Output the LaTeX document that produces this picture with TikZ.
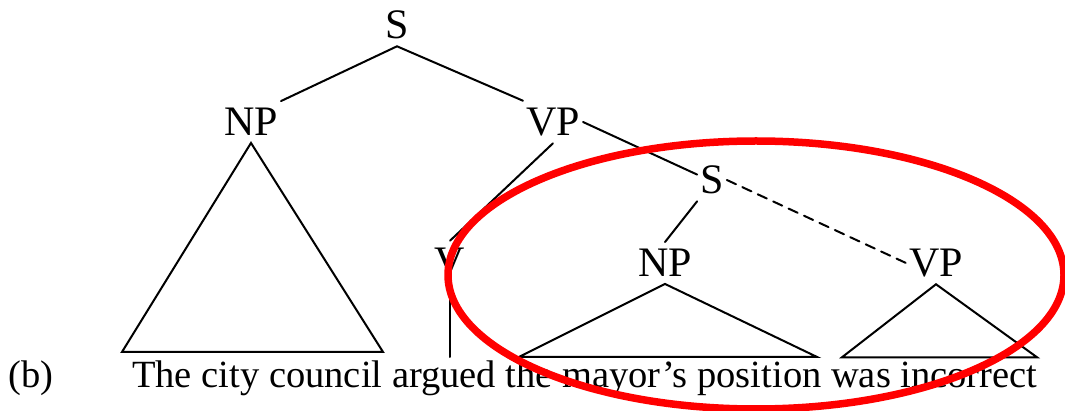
\documentclass[tikz,border=0pt]{standalone}
\usepackage{fontspec}
\setmainfont{Liberation Serif}
\begin{document}
\begin{tikzpicture}[x=1pt,y=-1pt,
  lbl/.style={font={\fontsize{42}{42}\selectfont}, inner xsep=3pt, inner ysep=7pt},
  edge/.style={line width=2pt, line cap=round},
  txt/.style={font={\fontsize{38.5}{40}\selectfont}, anchor=base west, inner sep=0pt}]
  \useasboundingbox (0,0) rectangle (1065,411);
  % upper tree
  \node[lbl] (s0) at (397,25) {S};
  \node[lbl] (np1) at (251,122) {NP};
  \node[lbl] (vp1) at (553,122) {VP};
  \node[lbl] (v) at (450,262) {V};
  \node[lbl] (s1) at (712,180) {S};
  \node[lbl] (np2) at (665,263) {NP};
  \node[lbl] (vp2) at (936,263) {VP};
  \coordinate (vbase) at (450,357);
  \draw[edge] (np1.north east) -- (s0.south) -- (vp1.north west);
  \draw[edge] (vp1.south) -- (v.north);
  \draw[edge] (v.south) -- (vbase);
  \draw[edge] (vp1.east) -- (s1.160);
  \draw[edge] (s1.south west) -- (np2.north);
  \draw[edge, dash pattern=on 10pt off 7pt] (s1.east) -- (vp2.west);
  % triangles
  \draw[edge] (np1.south) -- ++(-129,209) -- ++(261,0) -- cycle;
  \draw[edge] (np2.south) -- ++(-146,73) -- ++(298,0) -- cycle;
  \draw[edge] (vp2.south) -- ++(-94,73) -- ++(195,0) -- cycle;
  % sentence
  \node[txt] (tag) at (8,388) {(b)};
  \node[txt] (sent) at (132,388) {The city council argued the mayor’s position was incorrect};
  % red ring
  \draw[red, line width=7.5pt] (756,275) ellipse [x radius=308pt, y radius=134pt];
\end{tikzpicture}
\end{document}
